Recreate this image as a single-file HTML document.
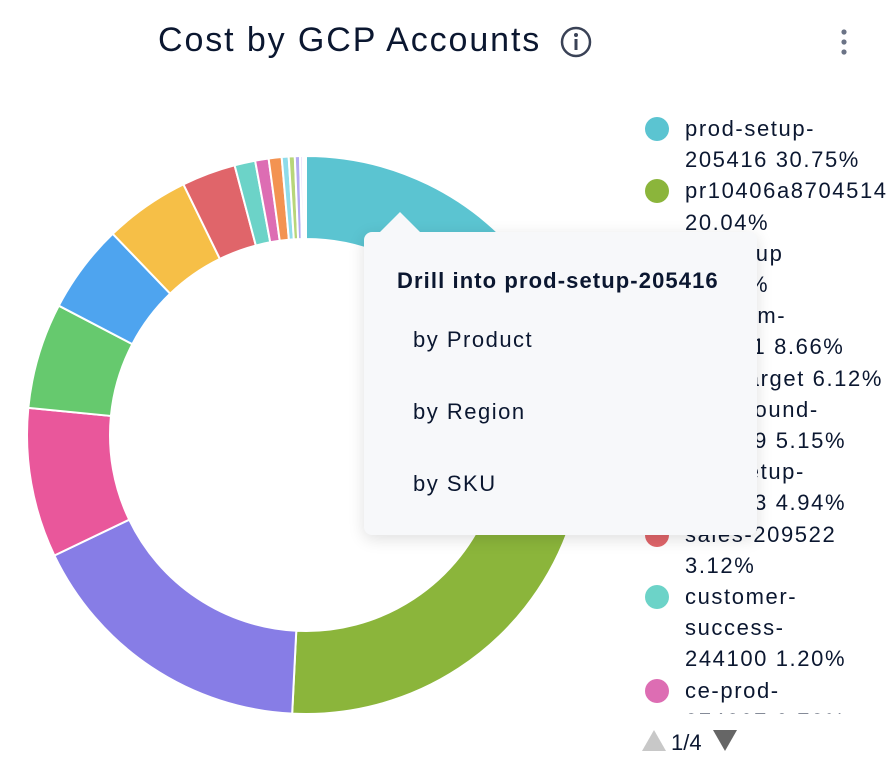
<!DOCTYPE html>
<html><head><meta charset="utf-8"><style>
body{margin:0;background:#fff;width:892px;height:780px;overflow:hidden;position:relative;font-family:"Liberation Sans",sans-serif;color:#0b1730}
.t{position:absolute;left:158px;top:21px;font-size:34px;letter-spacing:1.9px;color:#0b1730;white-space:nowrap}
.leg{position:absolute;left:642px;top:113px;width:250px;height:601px;overflow:hidden;font-size:22px;line-height:31.2px;letter-spacing:1.6px;white-space:nowrap}
.it{position:relative;padding-left:43px}
.dot{position:absolute;left:3px;top:4px;width:24px;height:24px;border-radius:50%}
.tip{position:absolute;left:364px;top:232px;width:393px;height:303px;background:#f7f8fa;border-radius:8px;box-shadow:0 4px 16px rgba(0,0,0,.13)}
.tip:before{content:"";position:absolute;left:16px;top:-20px;border:20px solid transparent;border-top:0;border-bottom:20px solid #f7f8fa}
.tip .h{position:absolute;left:33px;top:36px;font-size:22px;font-weight:bold;letter-spacing:1.1px;white-space:nowrap}
.tip .o{position:absolute;left:49px;font-size:22px;letter-spacing:1.5px;white-space:nowrap}
</style></head><body>
<div class="t">Cost by GCP Accounts</div>
<svg style="position:absolute;left:0;top:0" width="892" height="780">
<circle cx="576" cy="42" r="14" fill="none" stroke="#3a4256" stroke-width="2.5"/>
<circle cx="576" cy="35" r="2" fill="#3a4256"/><rect x="574.5" y="39" width="3" height="11" fill="#3a4256"/>
<circle cx="844" cy="32" r="2.6" fill="#6b7386"/><circle cx="844" cy="42" r="2.6" fill="#6b7386"/><circle cx="844" cy="52" r="2.6" fill="#6b7386"/>
<g id="pie"></g>
<polygon points="642,751 666,751 654,730" fill="#c8c8c8"/>
<polygon points="713,730 737,730 725,751" fill="#666"/>
<text x="671" y="750" font-size="22" fill="#0b1730" font-family="Liberation Sans">1/4</text>
</svg>
<div class="leg">
<div class="it"><span class="dot" style="background:#5bc4d1"></span>prod-setup-<br>205416 30.75%</div>
<div class="it"><span class="dot" style="background:#8bb53b"></span>pr10406a8704514<br>20.04%</div>
<div class="it"><span class="dot" style="background:#877de6"></span>qa-setup<br>17.10%</div>
<div class="it"><span class="dot" style="background:#e9579b"></span>platform-<br>211431 8.66%</div>
<div class="it"><span class="dot" style="background:#66c96e"></span>ccm-target 6.12%</div>
<div class="it"><span class="dot" style="background:#4ea4ef"></span>playground-<br>241909 5.15%</div>
<div class="it"><span class="dot" style="background:#f6bf47"></span>dev-setup-<br>241923 4.94%</div>
<div class="it"><span class="dot" style="background:#e0656a"></span>sales-209522<br>3.12%</div>
<div class="it"><span class="dot" style="background:#6cd3c8"></span>customer-<br>success-<br>244100 1.20%</div>
<div class="it"><span class="dot" style="background:#dd6db3"></span>ce-prod-<br>274207 0.78%</div>
</div>
<div class="tip"><div class="h">Drill into prod-setup-205416</div>
<div class="o" style="top:95px">by Product</div>
<div class="o" style="top:167px">by Region</div>
<div class="o" style="top:239px">by SKU</div></div>
<script>
var d=[[30.75,"#5bc4d1"],[20.04,"#8bb53b"],[17.1,"#877de6"],[8.66,"#e9579b"],[6.12,"#66c96e"],[5.15,"#4ea4ef"],[4.94,"#f6bf47"],[3.12,"#e0656a"],[1.2,"#6cd3c8"],[0.78,"#dd6db3"],[0.75,"#f39352"],[0.4,"#8fdcea"],[0.35,"#b8d67a"],[0.3,"#b3a9f2"],[0.15,"#e6d3f5"]];
var cx=306,cy=435,R=279,r=196,a=0,s="";
function p(rad,ang){var t=ang/100*2*Math.PI;return (cx+rad*Math.sin(t)).toFixed(2)+","+(cy-rad*Math.cos(t)).toFixed(2);}
d.forEach(function(x){var b=a+x[0],l=x[0]>50?1:0;
s+='<path d="M'+p(R,a)+' A'+R+','+R+' 0 '+l+' 1 '+p(R,b)+' L'+p(r,b)+' A'+r+','+r+' 0 '+l+' 0 '+p(r,a)+' Z" fill="'+x[1]+'" stroke="#fff" stroke-width="2"/>';a=b;});
document.getElementById("pie").innerHTML=s;
</script>
</body></html>
